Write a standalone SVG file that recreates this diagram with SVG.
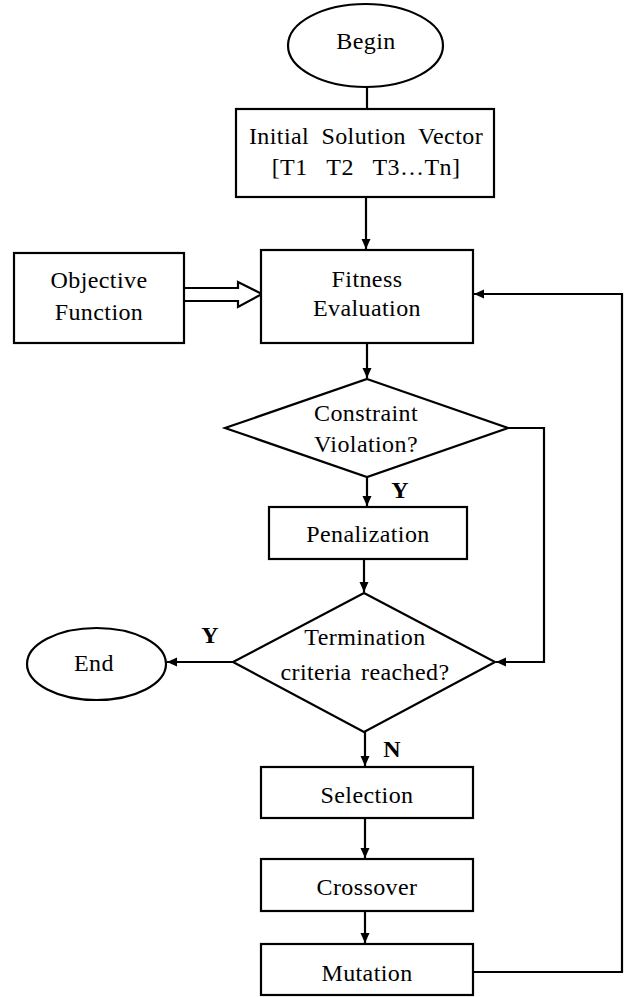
<svg xmlns="http://www.w3.org/2000/svg" width="624" height="997" viewBox="0 0 624 997">
<style>
.shape{fill:#fff;stroke:#000;stroke-width:2.2}
.t{font-family:"Liberation Serif","Times New Roman",serif;font-size:24px;letter-spacing:0.4px;fill:#000;text-anchor:middle}
.lbl{font-family:"Liberation Serif","Times New Roman",serif;font-size:24px;font-weight:bold;fill:#000;text-anchor:middle}
.c{fill:none;stroke:#000;stroke-width:2.2}
</style>
<defs>
<marker id="ah" markerUnits="userSpaceOnUse" markerWidth="11" markerHeight="10" refX="10" refY="5" orient="auto">
<path d="M0,0.5 L10,5 L0,9.5 z" fill="#000"/>
</marker>
</defs>
<rect width="624" height="997" fill="#fff"/>
<g id="connectors">
<line class="c" x1="367" y1="87" x2="367" y2="109"/>
<line class="c" x1="366" y1="197" x2="366" y2="249" marker-end="url(#ah)"/>
<line class="c" x1="367" y1="343" x2="367" y2="378" marker-end="url(#ah)"/>
<line class="c" x1="367" y1="477" x2="367" y2="506" marker-end="url(#ah)"/>
<polyline class="c" points="508,428 544,428 544,662 496,662" marker-end="url(#ah)"/>
<line class="c" x1="364" y1="559" x2="364" y2="592" marker-end="url(#ah)"/>
<line class="c" x1="233" y1="662" x2="167" y2="662" marker-end="url(#ah)"/>
<line class="c" x1="365" y1="732" x2="365" y2="766" marker-end="url(#ah)"/>
<line class="c" x1="365" y1="818" x2="365" y2="858" marker-end="url(#ah)"/>
<line class="c" x1="365" y1="911" x2="365" y2="943" marker-end="url(#ah)"/>
<polyline class="c" points="473,972 622,972 622,294 474,294" marker-end="url(#ah)"/>
<polygon id="hollow-arrow" class="shape" points="172,288 238,288 238,282 262,294 238,307 238,301 172,301"/>
<text class="lbl" x="400" y="498">Y</text>
<text class="lbl" x="210" y="643">Y</text>
<text class="lbl" x="392" y="757">N</text>
</g>
<g id="begin">
<ellipse class="shape" cx="365.5" cy="45.5" rx="77.5" ry="41.5"/>
<text class="t" x="366" y="49">Begin</text>
</g>
<g id="initial">
<rect class="shape" x="236" y="109" width="258" height="88"/>
<text class="t" x="366" y="144" word-spacing="6">Initial Solution Vector</text>
<text class="t" x="366" y="175" xml:space="preserve">[T1   T2   T3…Tn]</text>
</g>
<g id="objective">
<rect class="shape" x="14" y="253" width="170" height="90"/>
<text class="t" x="99" y="288">Objective</text>
<text class="t" x="99" y="320">Function</text>
</g>
<g id="fitness">
<rect class="shape" x="261" y="250" width="212" height="93"/>
<text class="t" x="367" y="287">Fitness</text>
<text class="t" x="367" y="316">Evaluation</text>
</g>
<g id="constraint">
<polygon class="shape" points="367,379 508,428 367,477 225,428"/>
<text class="t" x="366" y="421">Constraint</text>
<text class="t" x="366" y="452">Violation?</text>
</g>
<g id="penalization">
<rect class="shape" x="269" y="507" width="198" height="52"/>
<text class="t" x="368" y="542">Penalization</text>
</g>
<g id="termination">
<polygon class="shape" points="364,593 495,662 364,732 233,662"/>
<text class="t" x="365" y="645">Termination</text>
<text class="t" x="365" y="680" word-spacing="3">criteria reached?</text>
</g>
<g id="end">
<ellipse class="shape" cx="96.5" cy="664" rx="69.5" ry="36"/>
<text class="t" x="94" y="671">End</text>
</g>
<g id="selection">
<rect class="shape" x="261" y="767" width="212" height="51"/>
<text class="t" x="367" y="803">Selection</text>
</g>
<g id="crossover">
<rect class="shape" x="261" y="859" width="212" height="52"/>
<text class="t" x="367" y="895">Crossover</text>
</g>
<g id="mutation">
<rect class="shape" x="261" y="944" width="212" height="51"/>
<text class="t" x="367" y="981">Mutation</text>
</g>
</svg>
